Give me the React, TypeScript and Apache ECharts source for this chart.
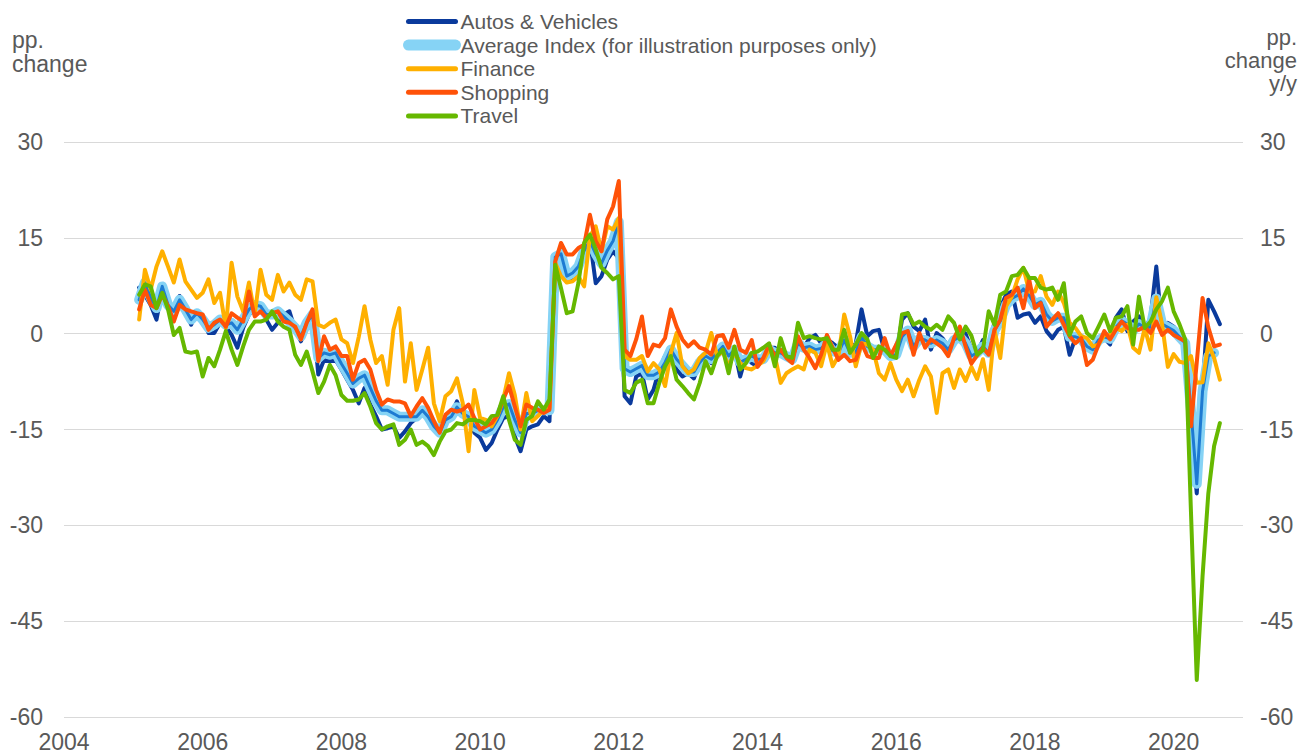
import React, { useEffect, useRef } from "react";
import * as echarts from "echarts";

// Monthly data, Jan 2005 – Aug 2020 (one row per year)
const START_YEAR = 2005;
const X_TICKS = { min: 2004, max: 2021, step: 2 };
const Y_TICKS = { min: -60, max: 30, step: 15 };

const autosVehicles = [
  7.2, 6.0, 4.5, 2.2, 6.9, 4.3, 3.5, 5.9, 3.5, 1.4, 3.5, 2.5,
  0.1, 0.1, 1.7, 1.1, -0.2, -2.2, 0.9, 3.0, 3.8, 4.3, 2.2, 0.6,
  1.7, 3.0, 3.5, 0.6, -1.2, 1.1, 3.5, -6.4, -4.1, -4.3, -4.1, -5.6,
  -7.2, -8.8, -10.9, -8.5, -11.1, -12.9, -15.0, -14.8, -14.5, -16.3, -15.3, -14.0,
  -13.2, -12.2, -12.9, -14.0, -15.3, -13.7, -12.7, -10.6, -12.9, -13.7, -15.5, -16.3,
  -18.2, -17.1, -15.0, -13.2, -12.9, -16.1, -18.4, -15.0, -14.5, -14.2, -12.9, -13.7,
  12.4, 12.6, 8.7, 8.5, 10.0, 13.2, 14.7, 7.9, 9.0, 11.6, 12.9, 11.8,
  -9.8, -10.9, -6.7, -6.2, -10.3, -8.8, -5.6, -3.5, -2.5, -5.6, -6.7, -6.2,
  -7.0, -4.6, -3.5, -4.6, -2.8, -1.7, -4.1, -2.5, -6.7, -3.5, -4.6, -5.1,
  -4.0, -2.2, -2.2, -3.3, -3.3, -3.5, -2.0, -2.2, -0.7, -0.2, -1.5, -0.9,
  -1.5, -2.2, -0.9, -2.2, -1.5, 3.8, -0.4, 0.4, 0.6, -2.8, -3.0, -3.3,
  2.2, 3.2, 1.1, 0.4, 2.2, -2.5, 0.1, -0.7, -2.0, -0.9, 0.6, 0.0,
  -2.5, -3.0, -1.0, -2.8, 1.9, 4.0, 6.1, 6.6, 2.5, 3.0, 3.2, 1.7,
  2.7, 0.4, -0.7, 0.6, 1.1, -3.3, -0.7, -0.9, -1.5, -2.5, -0.9, -0.7,
  -1.7, 2.5, 3.8, 0.4, 1.9, 2.7, 0.6, 2.5, 10.5, 0.6, 1.7, 1.1,
  -0.4, -1.2, -15.0, -25.0, -9.0, 5.3, 3.5, 1.5,
];

const averageIndex = [
  5.3, 8.0, 5.6, 4.0, 7.4, 4.5, 3.5, 5.3, 3.8, 2.2, 3.2, 2.2,
  0.9, 1.4, 2.2, 1.4, 1.7, 0.6, 2.2, 3.8, 4.5, 4.3, 3.0, 3.0,
  3.5, 2.7, 1.9, 0.9, -0.4, 1.7, 3.0, -3.8, -3.0, -3.3, -3.0, -4.7,
  -6.2, -7.8, -7.0, -6.5, -8.5, -10.5, -12.0, -12.0, -12.5, -13.0, -13.0, -13.0,
  -13.0, -12.0, -13.0, -14.5, -15.5, -13.5, -13.0, -11.5, -12.5, -13.0, -14.5, -15.0,
  -15.5, -15.0, -13.5, -11.5, -11.0, -13.5, -15.5, -12.5, -12.5, -12.0, -12.0, -12.0,
  12.0, 12.5, 9.0, 9.5, 10.5, 13.0, 14.5, 12.5, 11.0, 13.0, 14.5, 17.5,
  -5.5, -6.0, -5.5, -5.0, -6.5, -6.5, -6.0, -4.5, -2.5, -4.0, -5.0, -6.0,
  -6.0, -4.5, -3.5, -4.0, -3.0, -2.0, -3.5, -2.5, -4.5, -4.0, -3.5, -4.0,
  -4.0, -2.5, -3.0, -3.0, -3.5, -4.0, -1.5, -2.2, -2.0, -2.5, -2.3, -1.5,
  -2.7, -3.0, -1.0, -3.0, -3.0, -0.5, -2.0, -2.5, -2.5, -2.5, -3.5, -3.3,
  -0.5, 0.5, -2.0, -0.8, -1.0, -1.5, -1.0, -1.5, -2.5, -1.0, -0.5, -1.5,
  -3.5, -3.0, -2.0, -3.0, 0.5, 2.0, 4.5, 5.5, 6.0, 7.0, 6.0, 4.5,
  5.0, 3.0, 2.0, 2.5, 2.5, -0.5, -0.5, -0.8, -2.0, -2.5, -1.0, -0.5,
  -0.8, 1.0, 2.0, 1.5, 0.5, 1.5, 1.0, 1.0, 5.5, 1.5, 1.0, 0.5,
  -0.5, -1.5, -12.0, -23.5, -9.0, -3.5, -3.0,
];

const finance = [
  2.2, 10.0, 6.9, 10.5, 12.9, 10.5, 8.0, 11.6, 8.2, 6.9, 5.6, 6.4,
  8.5, 4.8, 6.4, 0.9, 11.1, 5.8, 3.5, 8.0, 3.0, 10.0, 6.1, 5.3,
  9.2, 6.6, 8.0, 6.1, 5.3, 8.5, 8.2, 1.4, 1.0, 1.7, 2.2, -0.9,
  -1.5, -4.6, -0.5, 4.3, -0.9, -4.6, -3.5, -8.0, 0.6, 4.0, -7.5, -1.5,
  -8.8, -5.6, -2.2, -10.9, -13.7, -9.8, -9.0, -7.0, -10.9, -18.4, -8.8, -13.2,
  -13.5, -14.5, -12.9, -10.3, -6.2, -9.6, -15.0, -9.3, -13.7, -12.9, -11.9, -11.6,
  11.1, 9.0, 8.0, 8.2, 9.0, 7.4, 15.2, 16.8, 12.9, 16.8, 16.3, 18.1,
  -3.5, -4.1, -4.1, -3.5, -5.9, -4.6, -5.6, -8.2, -3.0, 0.1, -5.1, -6.2,
  -5.6, -3.8, -3.0, 0.1, -3.5, -2.8, -5.1, -3.0, -4.6, -5.4, -5.6, -5.0,
  -4.3, -2.5, -3.5, -7.7, -6.2, -5.6, -5.1, -5.6, -2.5, -3.0, -5.1, -1.5,
  -5.1, -3.5, 3.0, -0.4, -5.1, -1.5, -1.7, -2.5, -6.2, -7.2, -4.6, -7.2,
  -9.0, -7.2, -9.8, -7.2, -5.1, -6.7, -12.4, -6.2, -5.6, -8.5, -5.6, -7.4,
  -5.2, -7.1, -4.0, -8.8, 0.6, -3.8, 4.3, 5.8, 8.5, 10.3, 6.6, 6.6,
  9.0, 5.8, 4.5, 6.6, 4.8, 1.7, 0.9, -0.4, -0.7, -2.0, -1.7, -0.2,
  -0.2, 0.9, 0.4, 1.4, -2.2, -3.0, 0.9, -2.5, 5.7, 1.5, -5.2, -3.2,
  -4.4, -4.6, -3.5, -7.7, -7.6, -1.5, -3.8, -7.2,
];

const shopping = [
  3.8, 6.9, 4.5, 4.0, 6.1, 4.3, 1.9, 4.5, 3.8, 3.5, 3.2, 3.0,
  0.6, 1.7, 2.2, 1.1, 3.2, 2.5, 1.9, 6.6, 2.7, 3.5, 2.5, 3.2,
  3.5, 1.9, 1.7, 1.1, -0.9, 1.7, 3.8, -4.3, -0.4, -2.5, -2.0, -3.5,
  -3.5, -7.2, -4.6, -4.1, -5.6, -8.8, -11.1, -10.3, -10.6, -10.6, -10.9, -12.9,
  -11.4, -10.1, -11.6, -13.7, -15.5, -12.7, -11.9, -12.2, -11.9, -11.1, -13.2, -15.0,
  -14.5, -14.0, -12.7, -10.3, -8.2, -11.4, -14.5, -11.1, -11.6, -11.9, -12.4, -11.9,
  11.3, 14.2, 12.4, 12.4, 13.4, 13.9, 18.6, 14.5, 12.9, 17.9, 19.9, 23.9,
  -2.5, -3.5, -0.9, 2.7, -3.5, -1.7, -2.0, -0.7, 3.8, 1.1, -0.9, -2.0,
  -1.2, -2.2, -2.5, -3.3, -0.4, -0.2, -2.2, 0.6, -2.5, -3.0, -1.0, -5.2,
  -3.8, -1.7, -3.5, -2.5, -3.8, -4.6, -0.4, -2.5, -3.8, -5.4, -3.3, -0.2,
  -2.2, -4.1, -3.3, -4.3, -4.1, -1.5, -3.5, -3.8, -3.8, -0.7, -3.5, -1.7,
  0.1, 0.4, -3.3, 0.1, -2.2, -0.9, -1.5, -2.2, -3.5, -0.7, 1.1, -2.0,
  -4.7, -3.4, -2.2, -3.3, 0.6, 2.2, 5.6, 6.1, 7.2, 4.0, 8.5, 4.0,
  4.8, 1.1, 2.2, 3.2, 1.4, -0.4, -1.5, -0.7, -4.9, -4.1, -1.7, 0.4,
  -0.9, 0.6, 1.9, 0.9, 0.6, 0.6, 1.1, 0.1, 1.9, -0.2, 0.6, -0.2,
  -0.7, -1.2, -14.5, -4.5, 5.6, 1.0, -2.0, -1.7,
];

const travel = [
  6.1, 7.7, 7.4, 4.0, 6.4, 3.8, -0.2, 0.9, -2.8, -3.0, -2.8, -6.7,
  -3.8, -5.1, -2.5, 0.4, -2.5, -4.9, -2.0, 0.6, 1.9, 1.9, 2.2, 3.5,
  1.9, 1.1, 0.6, -3.3, -4.9, -2.8, -5.9, -9.3, -7.5, -4.9, -6.5, -9.6,
  -10.5, -10.5, -10.3, -9.3, -11.4, -14.0, -15.0, -14.5, -14.2, -17.4, -16.6, -15.0,
  -17.4, -16.9, -17.6, -19.0, -16.9, -15.3, -15.0, -14.0, -14.2, -13.5, -13.5, -13.7,
  -14.2, -12.9, -12.7, -9.8, -13.5, -16.6, -17.4, -13.5, -12.9, -10.6, -11.9, -10.3,
  10.8, 7.1, 3.2, 3.5, 7.9, 14.2, 15.5, 13.2, 10.3, 9.5, 8.5, 9.0,
  -8.8, -9.3, -7.7, -7.2, -10.9, -10.9, -7.7, -5.1, -3.5, -7.2, -8.2, -9.3,
  -10.3, -7.7, -4.3, -6.2, -3.5, -2.5, -6.2, -2.0, -5.6, -4.6, -3.0, -2.8,
  -2.2, -1.5, -5.1, -0.7, -3.5, -3.8, 1.7, -0.7, -0.4, -0.7, -0.9, -0.7,
  -2.5, -2.5, 0.6, -3.0, -1.7, 0.1, -0.9, -3.8, -2.0, -2.5, -3.5, -3.8,
  3.0, 3.2, 1.4, 1.9, 1.1, 0.6, 1.4, 0.6, 2.7, 1.7, -0.9, 1.1,
  -0.3, -3.3, -2.6, 3.5, 1.4, 6.1, 6.6, 9.0, 9.2, 10.3, 8.7, 8.7,
  7.2, 6.9, 7.2, 5.3, 7.9, -0.2, 1.9, 2.7, 0.1, -0.7, 1.1, 3.0,
  0.4, 2.5, 2.7, 4.3, -1.7, 5.8, 0.9, 1.9, 3.8, 5.1, 7.2, 3.5,
  1.5, -0.9, -28.0, -54.2, -38.0, -25.0, -17.6, -14.0,
];

const NAMES = {
  autos: "Autos & Vehicles",
  avg: "Average Index (for illustration purposes only)",
  finance: "Finance",
  shopping: "Shopping",
  travel: "Travel",
};

const COLORS = {
  autos: "#0A3A9C",
  avgBand: "#86D3F5",
  avgLine: "#1E7BD2",
  finance: "#FFB000",
  shopping: "#FF5208",
  travel: "#66B800",
};

const FONT = "'Liberation Sans', Arial, Helvetica, sans-serif";
const TEXT = "#595959";

// month-end position on a decimal-year axis
const toPoints = (vals: number[]) =>
  vals.map((v, i) => [START_YEAR + (i + 1) / 12, v]);

function lineSeries(name: string, data: number[], color: string, width: number, z: number) {
  return {
    type: "line",
    name,
    data: toPoints(data),
    symbol: "none",
    showSymbol: false,
    z,
    lineStyle: { color, width, join: "round", cap: "round" },
    itemStyle: { color },
    emphasis: { disabled: true },
  };
}

const legendItem = (name: string, width: number) => ({
  name,
  itemStyle: { opacity: 0, borderWidth: 0 },
  lineStyle: { width, cap: "round", opacity: 1 },
});

export default function App() {
  const ref = useRef<HTMLDivElement>(null);

  useEffect(() => {
    document.body.style.margin = "0";
    const chart = echarts.init(ref.current as HTMLDivElement, null, { renderer: "svg" });

    const yAxisBase = {
      type: "value",
      min: Y_TICKS.min,
      max: Y_TICKS.max,
      interval: Y_TICKS.step,
      axisLine: { show: false },
      axisTick: { show: false },
    };

    chart.setOption({
      animation: false,
      textStyle: { fontFamily: FONT },
      grid: { left: 64, right: 71, top: 142, bottom: 39, containLabel: false },
      legend: {
        orient: "vertical",
        left: 403,
        top: 10,
        padding: 0,
        itemWidth: 47,
        itemHeight: 14,
        itemGap: 0.6,
        selectedMode: false,
        textStyle: { fontSize: 21, color: TEXT, fontFamily: FONT, lineHeight: 23 },
        data: [
          legendItem(NAMES.autos, 5),
          legendItem(NAMES.avg, 11),
          legendItem(NAMES.finance, 5),
          legendItem(NAMES.shopping, 5),
          legendItem(NAMES.travel, 5),
        ],
      },
      xAxis: {
        type: "value",
        min: X_TICKS.min,
        max: X_TICKS.max,
        interval: X_TICKS.step,
        axisLine: { show: false },
        axisTick: { show: false },
        splitLine: { show: false },
        axisLabel: {
          fontSize: 23,
          color: TEXT,
          fontFamily: FONT,
          margin: 13,
          showMaxLabel: false,
          formatter: (v: number) => String(Math.round(v)),
        },
      },
      yAxis: [
        {
          ...yAxisBase,
          position: "left",
          splitLine: { show: true, lineStyle: { color: "#D9D9D9", width: 1 } },
          axisLabel: { fontSize: 23, color: TEXT, fontFamily: FONT, margin: 21 },
        },
        {
          ...yAxisBase,
          position: "right",
          splitLine: { show: false },
          axisLabel: { fontSize: 23, color: TEXT, fontFamily: FONT, margin: 17 },
        },
      ],
      graphic: [
        {
          type: "text",
          x: 12,
          y: 28,
          style: {
            text: "pp.\nchange",
            fontSize: 23,
            lineHeight: 24,
            fill: TEXT,
            fontFamily: FONT,
            align: "left",
            verticalAlign: "top",
          },
        },
        {
          type: "text",
          x: 1297,
          y: 26,
          style: {
            text: "pp.\nchange\ny/y",
            fontSize: 22,
            lineHeight: 23,
            fill: TEXT,
            fontFamily: FONT,
            align: "right",
            verticalAlign: "top",
          },
        },
      ],
      series: [
        lineSeries(NAMES.autos, autosVehicles, COLORS.autos, 4, 2),
        lineSeries(NAMES.avg, averageIndex, COLORS.avgBand, 10, 3),
        lineSeries(NAMES.avg, averageIndex, COLORS.avgLine, 3, 4),
        lineSeries(NAMES.finance, finance, COLORS.finance, 4, 5),
        lineSeries(NAMES.shopping, shopping, COLORS.shopping, 4, 6),
        lineSeries(NAMES.travel, travel, COLORS.travel, 4, 7),
      ],
    });

    return () => chart.dispose();
  }, []);

  return <div ref={ref} style={{ width: 1314, height: 756 }} />;
}
